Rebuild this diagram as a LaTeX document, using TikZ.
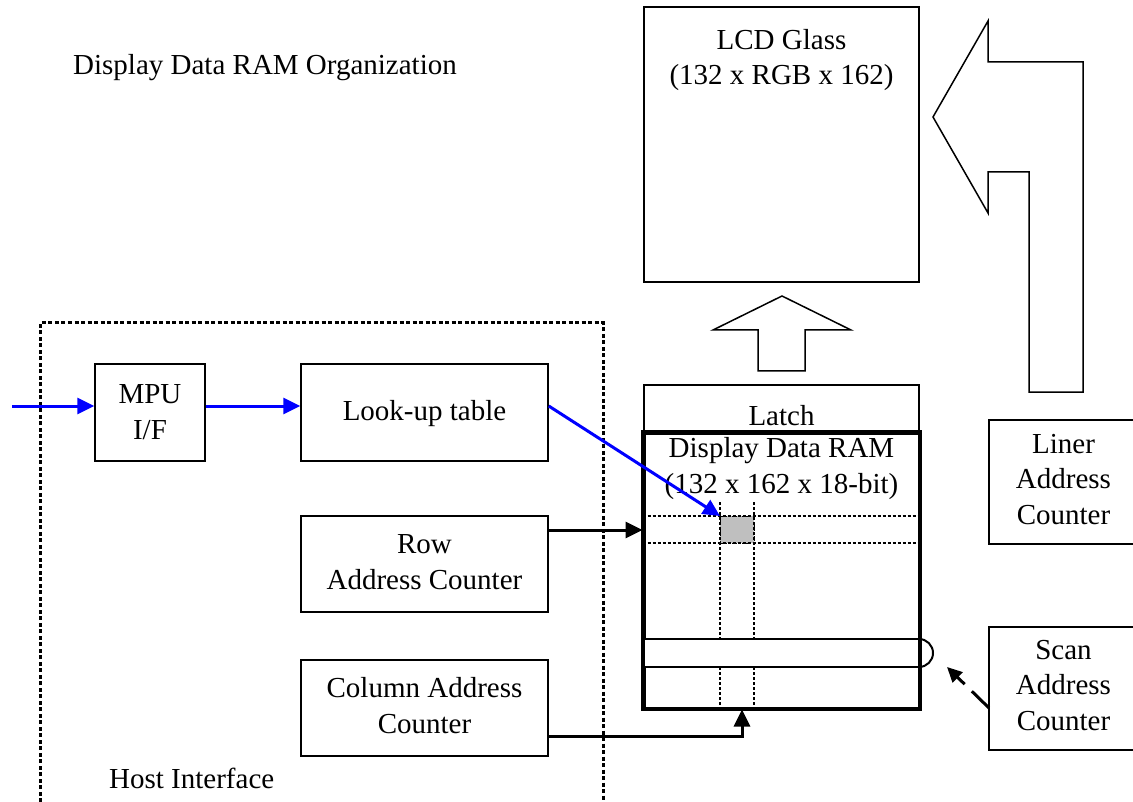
\documentclass[tikz,border=0pt]{standalone}
\usepackage{fontspec}
\setmainfont{Liberation Serif}
\usetikzlibrary{arrows.meta}
\begin{document}
\begin{tikzpicture}[x=1pt,y=-1pt,
  box/.style={draw,line width=1.5pt,rectangle,inner sep=0pt},
  txt/.style={font=\fontsize{29}{35.5}\selectfont,align=center,anchor=base,inner sep=0pt},
  blue arrow/.style={draw=blue,line width=3pt,-{Triangle[length=17pt,width=16pt]}},
  black arrow/.style={draw=black,line width=3pt,-{Triangle[length=17pt,width=16pt]}},
  frame/.style={line width=3pt,dash pattern=on 4pt off 2.5pt},
  grid/.style={line width=2pt,dash pattern=on 3pt off 2pt}]
\useasboundingbox (0,0) rectangle (1133,802);
\clip (0,0) rectangle (1133,802);
% title and frame
\node[txt,anchor=base west] (title) at (73,75) {Display Data RAM Organization};
\draw[frame] (40,802) -- (40,323) -- (603,323) -- (603,802);
\node[txt,anchor=base west] (host) at (109,788) {Host Interface};
% left boxes
\node[box,minimum width=110pt,minimum height=97pt] (mpu) at (150,412.5) {};
\node[txt] (mput) at (150,439) {MPU\\I/F};
\node[box,minimum width=247pt,minimum height=97pt] (lut) at (424.5,412.5) {};
\node[txt] (lutt) at (424.5,420) {Look-up table};
\node[box,minimum width=247pt,minimum height=96pt] (row) at (424.5,564) {};
\node[txt] (rowt) at (424.5,589) {Row\\Address Counter};
\node[box,minimum width=247pt,minimum height=96pt] (col) at (424.5,708) {};
\node[txt] (colt) at (424.5,733) {Column Address\\Counter};
% LCD glass
\node[box,minimum width=275pt,minimum height=275pt] (lcd) at (781.5,144.5) {};
\node[txt] (lcdt) at (781.5,85) {LCD Glass\\(132 x RGB x 162)};
% latch and RAM
\node[box,minimum width=275pt,minimum height=48pt] (latch) at (781.5,409) {};
\node[txt] (latcht) at (781.5,425) {Latch};
\node[draw,line width=3pt,rectangle,inner sep=0pt,minimum width=275pt,minimum height=275pt] (ram) at (781.5,570.5) {};
\node[txt] (ramt) at (781.5,493) {Display Data RAM\\(132 x 162 x 18-bit)};
% grid
\fill[black!25] (720,516) rectangle (754,543);
\draw[line width=0.8pt,dash pattern=on 2pt off 1.5pt] (720,516) rectangle (754,543);
\draw[grid] (ram.west |- 0,516) -- (ram.east |- 0,516);
\draw[grid] (ram.west |- 0,543) -- (ram.east |- 0,543);
\draw[grid] (720,502) -- (720,708);
\draw[grid] (754,502) -- (754,708);
\coordinate (cell) at (720,516);
% scan band
\draw[line width=1.5pt,fill=white] (644,639) rectangle (919,667);
\draw[line width=2pt] (919,639) arc[start angle=90,end angle=-90,radius=14pt];
\draw[line width=3pt] (ram.north west) rectangle (ram.south east);
% right boxes
\node[box,minimum width=160pt,minimum height=124pt,anchor=north west] (liner) at (988,419) {};
\node[txt] (linert) at (1063.5,524) {Liner\\Address\\Counter};
\node[box,minimum width=160pt,minimum height=123pt,anchor=north west] (scan) at (988,626) {};
\node[txt] (scant) at (1063.5,730) {Scan\\Address\\Counter};
% block arrows
\draw[line width=1.5pt,line join=miter] (933,117) -- (988,21) -- (988,62) -- (1083,62) -- (1083,392) -- (1029,392) -- (1029,172) -- (988,172) -- (988,213) -- cycle;
\draw[line width=1.5pt,line join=miter] (782,296) -- (851,330) -- (805,330) -- (805,371) -- (758,371) -- (758,330) -- (713,330) -- cycle;
% connectors
\coordinate (in) at (12,406);
\coordinate (colbend) at (742,736);
\draw[blue arrow] (in) -- (mpu.west |- in);
\draw[blue arrow] (mpu.east |- in) -- (lut.west |- in);
\draw[blue arrow] (lut.east |- in) -- (cell);
\draw[black arrow] (row.east |- 0,530) -- (ram.west |- 0,530);
\draw[black arrow] (col.east |- colbend) -- (colbend) -- (colbend |- ram.south);
\coordinate (scantail) at (989,708);
\coordinate (scantip) at (947,667);
\draw[line width=3pt,dash pattern=on 24pt off 10pt,-{Triangle[length=15pt,width=14pt]}] (scantail) -- (scantip);
\end{tikzpicture}
\end{document}
